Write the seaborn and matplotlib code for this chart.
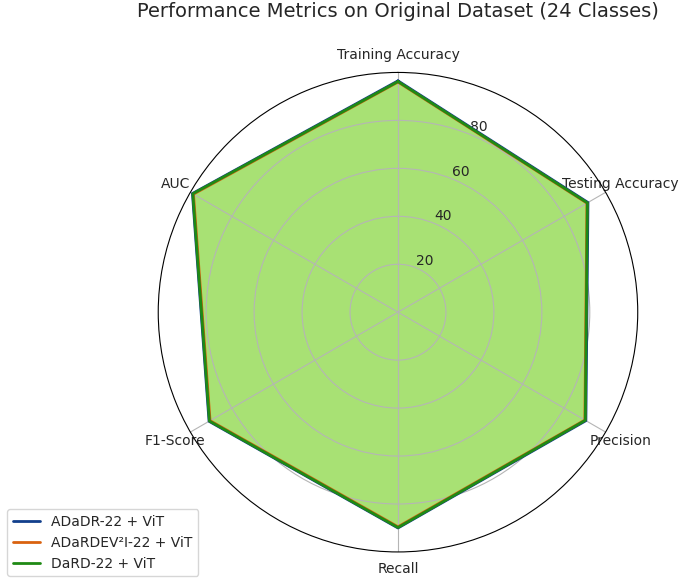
import matplotlib
matplotlib.use("Agg")
import matplotlib.pyplot as plt
import numpy as np
import seaborn as sns

sns.set_style("white")

metrics = ["Training Accuracy", "Testing Accuracy", "Precision", "Recall", "F1-Score", "AUC"]
models = ["ADaDR-22 + ViT", "ADaRDEV²I-22 + ViT", "DaRD-22 + ViT"]
values = {
    "ADaDR-22 + ViT": [96.5, 91.5, 90.5, 90.0, 91.0, 99.0],
    "ADaRDEV²I-22 + ViT": [96.0, 91.0, 90.0, 89.5, 90.5, 98.5],
    "DaRD-22 + ViT": [96.2, 91.2, 90.2, 89.8, 90.8, 98.8],
}
colors = ["#123f8c", "#d9620f", "#1f8a14"]

angles = np.linspace(0, 2 * np.pi, len(metrics), endpoint=False)
closed = np.concatenate([angles, angles[:1]])

fig = plt.figure(figsize=(6.85, 5.83), dpi=100)
ax = fig.add_axes([0.231, 0.053, 0.70, 0.823], projection="polar")
ax.set_theta_offset(np.pi / 2)
ax.set_theta_direction(-1)

for name, c in zip(models, colors):
    v = values[name] + values[name][:1]
    ax.plot(closed, v, color=c, linewidth=2, label=name)
ax.fill(closed, values["DaRD-22 + ViT"] + values["DaRD-22 + ViT"][:1], color="#a3e06c", alpha=0.95, zorder=0)

ax.set_ylim(0, 100)
ax.set_yticks([20, 40, 60, 80])
ax.set_yticklabels(["20", "40", "60", "80"], fontsize=10)
ax.set_rlabel_position(22)
ax.set_xticks(angles)
ax.set_xticklabels(metrics, fontsize=10)
ax.tick_params(axis="x", pad=2)
ax.grid(color="#b5b5b5", linewidth=0.8)
ax.spines["polar"].set_color("black")

ax.set_title("Performance Metrics on Original Dataset (24 Classes)", fontsize=14, pad=40)
fig.legend(loc="lower left", bbox_to_anchor=(0.0, 0.0), fontsize=10, frameon=True)

fig.savefig("out.png", dpi=100)
